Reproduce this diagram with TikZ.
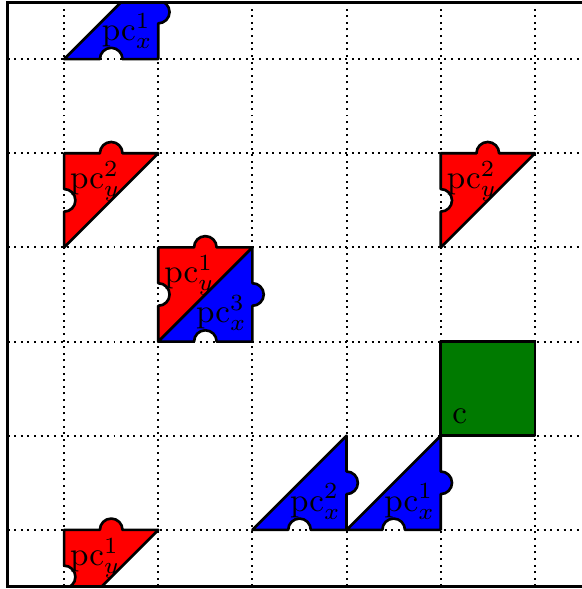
\documentclass[tikz,border=0pt]{standalone}
\usepackage{amsmath,amssymb}
\usepackage{xcolor}
\usepackage{tikz}
\usetikzlibrary{positioning}
\definecolor{cellgreen}{RGB}{0, 122, 0}

% piece with bottom notch and right tab (lower right half of a cell)
\newcommand{\pcxpiece}[3]{%
  \draw[piece, fill=blue, shift={(#1,#2)}] (0,0) -- (0.38,0)
    arc[start angle=180, end angle=0, radius=0.12] -- (1,0) -- (1,0.38)
    arc[start angle=-90, end angle=90, radius=0.12] -- (1,1) -- cycle;
  \node[piecelabel] (pcx-#1-#2) at (#1+0.67,#2+0.3) {$\mathrm{pc}_x^{#3}$};
}
% piece with left notch and top tab (upper left half of a cell)
\newcommand{\pcypiece}[3]{%
  \draw[piece, fill=red, shift={(#1,#2)}] (0,0) -- (0,0.38)
    arc[start angle=-90, end angle=90, radius=0.12] -- (0,1) -- (0.38,1)
    arc[start angle=180, end angle=0, radius=0.12] -- (1,1) -- cycle;
  \node[piecelabel] (pcy-#1-#2) at (#1+0.33,#2+0.7) {$\mathrm{pc}_y^{#3}$};
}

\begin{document}
\begin{tikzpicture}[
    piece/.style={draw=black, thick, line join=round},
    piecelabel/.style={inner sep=0pt},
    gridline/.style={line width=0.6pt, dash pattern=on 0.6pt off 1.4pt}
  ]
    \useasboundingbox (0.319,0.372) rectangle (6.5,6.628);
    \begin{scope}
    \clip (0.4,0.4) rectangle (6.6,6.6);
    % Grid
    \foreach \i in {1,...,6} {
        \draw[gridline] (\i,0.4) -- (\i,6.6);
        \draw[gridline] (0.4,\i) -- (6.6,\i);
    }

    % Pieces
    \pcxpiece{1}{6}{1}
    \pcypiece{1}{4}{2}
    \pcypiece{5}{4}{2}
    \pcxpiece{2}{3}{3}
    \pcypiece{2}{3}{1}
    \pcxpiece{3}{1}{2}
    \pcxpiece{4}{1}{1}
    \pcypiece{1}{0}{1}

    % Goal cell
    \draw[piece, fill=cellgreen] (5,2) rectangle (6,3);
    \node[anchor=south west] (goal) at (5,2) {c};
    \end{scope}

    % Frame
    \draw[thick] (0.4,0.4) rectangle (6.6,6.6);
\end{tikzpicture}
\end{document}
